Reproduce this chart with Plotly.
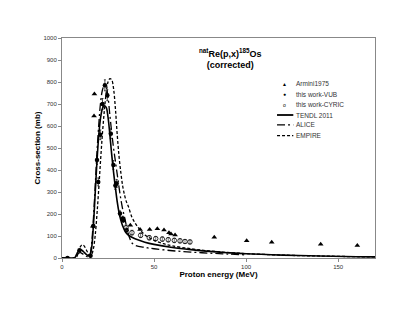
import plotly.graph_objects as go

# Armini1975
armini_x = [16.7, 17.4, 17.6, 37.1, 42.4, 47.6, 51.8, 55.4, 58.1, 59.2, 61.4, 82.7, 100.3, 113.9, 140.5, 160.4]
armini_y = [144, 646, 746, 149, 129, 129, 133, 127, 115, 109, 104, 94, 78, 72, 63, 57]

# this work - VUB
vub_x = [3.0, 9.5, 15.5, 17.0, 19.0, 19.7, 20.8, 22.0, 23.3, 24.6, 26.5, 27.9, 29.0, 29.7, 31.5, 33.0, 33.3, 35.1]
vub_y = [0, 35, 10, 145, 445, 346, 560, 700, 785, 740, 565, 423, 330, 339, 202, 180, 172, 126]
vub_err = [2, 3, 2, 8, 20, 18, 22, 25, 25, 25, 22, 20, 18, 18, 12, 10, 10, 8]

# this work - CYRIC
cyric_x = [34.8, 38.0, 42.7, 47.4, 50.9, 54.5, 57.7, 61.0, 64.1, 66.8, 69.5]
cyric_y = [138, 115, 103, 92, 88, 86, 83, 80, 78, 75, 73]
cyric_err = [12, 11, 10, 10, 10, 10, 10, 10, 10, 9, 9]

# TENDL 2011
tendl_x = [0, 6, 7, 8, 9, 10, 11, 12, 13, 14, 15, 16, 17, 18, 19, 20, 21, 22, 23, 24, 25, 26, 27, 28, 29, 30,
           31, 32, 33, 34, 35, 36, 38, 40, 45, 50, 60, 70, 80, 90, 100, 120, 140, 160, 170]
tendl_y = [0, 0, 2, 18, 33, 38, 34, 26, 18, 12, 8, 40, 140, 290, 440, 560, 640, 680, 692, 685, 640, 560, 470,
           390, 320, 255, 205, 170, 145, 125, 112, 104, 94, 86, 72, 62, 48, 38, 30, 24, 19, 13, 9, 6, 5]

# ALICE
alice_x = [0, 6, 7, 8, 9, 10, 11, 12, 13, 14, 15, 16, 17, 18, 19, 20, 21, 22, 23, 24, 25, 26, 27, 28, 29, 30,
           31, 32, 33, 34, 35, 36, 37, 38, 40, 45, 50, 60, 70, 80, 90, 100]
alice_y = [0, 0, 2, 12, 22, 24, 20, 14, 9, 6, 12, 60, 170, 320, 480, 610, 710, 765, 785, 775, 730, 650, 570,
           500, 440, 380, 320, 265, 220, 185, 145, 110, 85, 68, 57, 48, 42, 33, 27, 22, 18, 14]

# EMPIRE
empire_x = [0, 7, 8, 9, 10, 11, 12, 13, 14, 15, 16, 17, 18, 19, 20, 21, 22, 23, 24, 25, 26, 27, 28, 29, 30,
            31, 32, 33, 34, 35, 36, 38, 40, 42, 45, 48, 50, 55, 60, 70, 80, 90, 100, 120, 140, 160, 170]
empire_y = [0, 0, 5, 30, 52, 60, 55, 40, 25, 12, 15, 40, 100, 200, 320, 450, 570, 670, 750, 800, 815, 810, 770,
            680, 560, 460, 385, 325, 285, 255, 235, 185, 155, 132, 105, 90, 80, 65, 55, 42, 32, 25, 20, 13, 9, 6, 5]

legend_names = ['Armini1975', 'this work-VUB', 'this work-CYRIC', 'TENDL 2011', 'ALICE', 'EMPIRE']

fig = go.Figure()

fig.add_trace(go.Scatter(x=armini_x, y=armini_y, mode='markers', name=legend_names[0],
                         marker=dict(symbol='triangle-up', size=5, color='black')))
fig.add_trace(go.Scatter(x=vub_x, y=vub_y, mode='markers', name=legend_names[1],
                         error_y=dict(type='data', array=vub_err, color='black', thickness=0.7, width=1),
                         marker=dict(symbol='circle', size=4.5, color='black')))
fig.add_trace(go.Scatter(x=cyric_x, y=cyric_y, mode='markers', name=legend_names[2],
                         error_y=dict(type='data', array=cyric_err, color='#444', thickness=0.7, width=1.5),
                         marker=dict(symbol='circle-open', size=4.5, color='black', line=dict(width=0.8))))
fig.add_trace(go.Scatter(x=tendl_x, y=tendl_y, mode='lines', name=legend_names[3],
                         line=dict(color='black', width=1.6, shape='spline')))
fig.add_trace(go.Scatter(x=alice_x, y=alice_y, mode='lines', name=legend_names[4],
                         line=dict(color='black', width=1.3, dash='8px,3px,2px,3px', shape='spline')))
fig.add_trace(go.Scatter(x=empire_x, y=empire_y, mode='lines', name=legend_names[5],
                         line=dict(color='black', width=1.3, dash='3px,2px', shape='spline')))

# compact legend drawn by hand (plotly's legend rows are too tall at this size)
row_y = [0.792, 0.744, 0.697, 0.650, 0.605, 0.556]
marker_glyphs = ['▲', '●', 'o']
for i, name in enumerate(legend_names):
    fig.add_annotation(x=0.742, y=row_y[i], xref='paper', yref='paper', xanchor='left', yanchor='middle',
                       showarrow=False, text=name, font=dict(size=6.5, color='#333'))
for i, g in enumerate(marker_glyphs):
    fig.add_annotation(x=0.712, y=row_y[i], xref='paper', yref='paper', xanchor='center', yanchor='middle',
                       showarrow=False, text=g, font=dict(size=5, color='black'))
line_dashes = ['solid', '8px,3px,2px,3px', '3px,2px']
line_widths = [1.8, 1.4, 1.3]
for j, (d, w) in enumerate(zip(line_dashes, line_widths)):
    yy = row_y[3 + j]
    fig.add_shape(type='line', xref='paper', yref='paper', x0=0.687, x1=0.739, y0=yy, y1=yy,
                  line=dict(color='black', width=w, dash=d))

fig.add_annotation(x=0.537, y=0.97, xref='paper', yref='paper', showarrow=False, yanchor='top',
                   text='<b><sup>nat</sup>Re(p,x)<sup>185</sup>Os<br>(corrected)</b>',
                   font=dict(size=9, color='black'))

# page body adds an 8px offset, so the figure is 8px smaller and margins shifted
fig.update_layout(
    width=407, height=313,
    margin=dict(l=54, r=40, t=30, b=63),
    paper_bgcolor='white', plot_bgcolor='white',
    font=dict(family='Arial, Liberation Sans, sans-serif', size=6, color='#333'),
    showlegend=False,
    xaxis=dict(range=[0, 170], tickvals=[0, 50, 100, 150], showgrid=False, zeroline=False, automargin=False,
               showline=True, linecolor='#888', linewidth=1, mirror=True,
               ticks='outside', ticklen=3, tickcolor='#888',
               title=dict(text='<b>Proton energy (MeV)</b>', font=dict(size=8, color='black'), standoff=2)),
    yaxis=dict(range=[0, 1000], dtick=100, showgrid=False, zeroline=False, automargin=False,
               showline=True, linecolor='#888', linewidth=1, mirror=True,
               ticks='outside', ticklen=3, tickcolor='#888',
               title=dict(text='<b>Cross-section (mb)</b>', font=dict(size=8, color='black'), standoff=1)),
)

fig.write_html("out.html")
